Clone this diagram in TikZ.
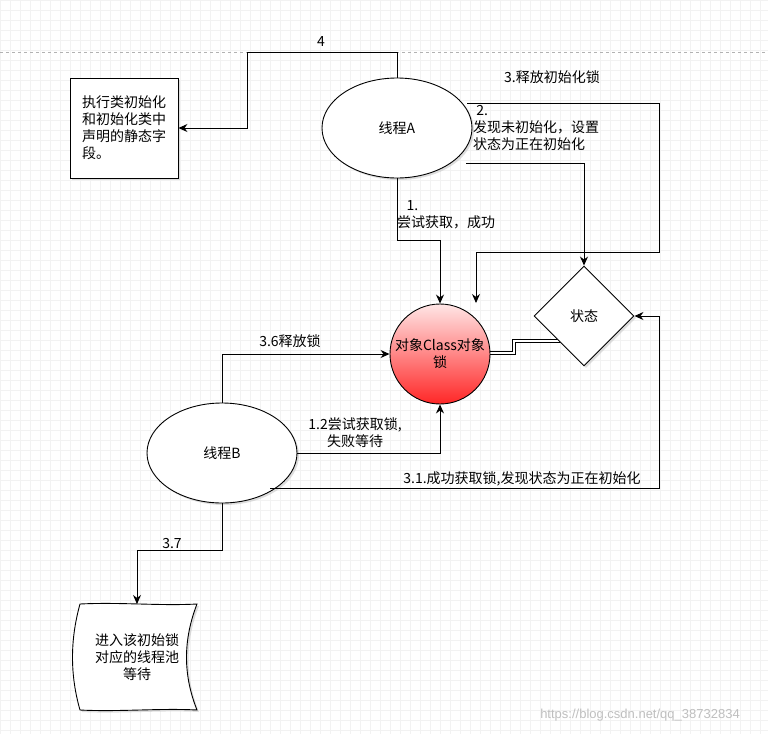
\documentclass[tikz,border=0pt]{standalone}
\usepackage{fontspec}
\setmainfont{Liberation Sans}
\newfontfamily\cjk{Noto Sans CJK SC}
\usetikzlibrary{shapes.geometric,arrows.meta,shadows}
\begin{document}
\begin{tikzpicture}[x=1pt,y=-1pt,
  lbl/.style={font=\cjk\fontsize{14}{17}\selectfont, align=center, inner sep=1pt},
  con/.style={-{Stealth[length=9pt,width=8pt]}, line width=0.9pt},
  shp/.style={draw, line width=0.9pt, fill=white, drop shadow={shadow xshift=2pt,shadow yshift=-2pt,fill=gray!50}, font=\cjk\fontsize{14}{17}\selectfont, align=center}]
\useasboundingbox (0,0) rectangle (768,734);
\fill[white] (0,0) rectangle (768,734);
\foreach \i in {0,10,...,760} \draw[gray!10, line width=0.5pt] (\i,0) -- (\i,734);
\foreach \i in {0,10,...,730} \draw[gray!10, line width=0.5pt] (0,\i) -- (768,\i);
\draw[gray!60, dashed] (0,52) -- (768,52);

% double link first, so the diamond covers its end
\draw[line width=0.7pt, double, double distance=1.8pt] (488,353) -- (514,353) -- (514,341) -- (562,341);

% shapes
\node[shp, ellipse, minimum width=150, minimum height=100] (A) at (397,128) {线程A};
\node[shp, ellipse, minimum width=150, minimum height=100] (B) at (222,453) {线程B};
\node[shp, rectangle, minimum width=108, minimum height=100, inner sep=2pt, align=left] (init) at (124,128) {执行类初始化\\和初始化类中\\声明的静态字\\段。};
\node[draw, circle, line width=0.9pt, minimum size=100, inner sep=0pt, top color=red!10, bottom color=red!85,
  font=\cjk\fontsize{14}{17}\selectfont, align=center] (lock) at (440,354) {对象Class对象\\锁};
\node[shp, diamond, minimum width=100, minimum height=100, inner sep=0pt] (st) at (584,316) {状态};
\draw[line width=0.9pt, fill=white, drop shadow={shadow xshift=2pt,shadow yshift=-2pt,fill=gray!50}]
  (80,604) .. controls (120,602) and (160,606) .. (197,604)
  .. controls (183,640) and (183,675) .. (197,710)
  .. controls (160,708) and (120,712) .. (80,710)
  .. controls (70,675) and (70,640) .. (80,604) -- cycle;
\node[lbl] (wait) at (137,657) {进入该初始锁\\对应的线程池\\等待};
\coordinate (waitT) at (137,604);
\coordinate (a3) at (467,103);
\coordinate (a2) at (466,163);

% connectors
\draw[con] (A.north) |- (247,52) |- (init.east);
\node[lbl] at (321,42) {4};
\draw[con] (a3) -- (659,103) -- (659,252) -- (476,252) -- (476,303);
\node[lbl] at (552,77) {3.释放初始化锁};
\draw[con] (a2) -- (584,163) -- (st.north);
\node[lbl, align=left, anchor=north west] at (472,104) {\ 2.\\发现未初始化，设置\\状态为正在初始化};
\draw[con] (A.south) |- (440,240) -- (lock.north);
\node[lbl, align=left, anchor=north west] at (396,199) {\ \ \ 1.\\尝试获取，成功};
\draw[con] (B.north) |- (lock.west);
\node[lbl] at (290,341) {3.6释放锁};
\draw[con] (B.east) -| (lock.south);
\node[lbl] at (355,433) {1.2尝试获取锁,\\失败等待};
\draw[con] (270,488) -- (659,488) |- (st.east);
\node[lbl] at (522,479) {3.1.成功获取锁,发现状态为正在初始化};
\draw[con] (B.south) |- (137,550) -- (waitT);
\node[lbl] at (172,543) {3.7};
\node[font=\fontsize{13}{15}\selectfont, text=gray!50] at (640,715) {https://blog.csdn.net/qq\_38732834};
\end{tikzpicture}
\end{document}
